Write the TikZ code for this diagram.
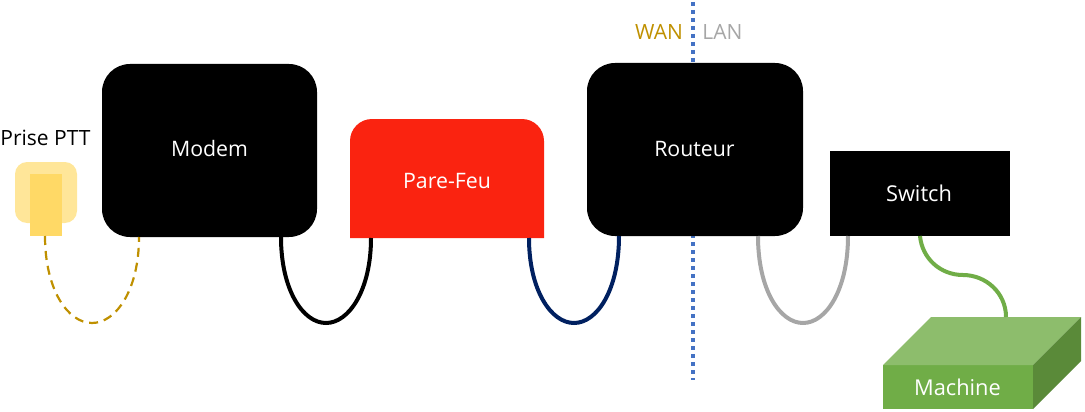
\documentclass[tikz,border=0pt]{standalone}
\usepackage{fontspec}
\setmainfont{Open Sans}
\definecolor{gold}{HTML}{BF9000}
\definecolor{navy}{HTML}{002060}
\definecolor{cablegray}{HTML}{A6A6A6}
\definecolor{lanblue}{HTML}{4472C4}
\definecolor{fwred}{HTML}{FA2310}
\definecolor{grn}{HTML}{70AD47}
\definecolor{grnlight}{HTML}{8DBD6C}
\definecolor{grndark}{HTML}{5A8A39}
\definecolor{plugout}{HTML}{FFE699}
\definecolor{plugin}{HTML}{FFD966}
\tikzset{
  box/.style={fill=black,draw=none,inner sep=0pt},
  boxtext/.style={inner sep=0pt,text=white,font=\fontsize{21.3}{24}\selectfont},
  lab/.style={inner sep=0pt,font=\fontsize{21}{24}\selectfont},
  cable/.style={line width=4pt},
}
\begin{document}
\begin{tikzpicture}[x=1pt,y=-1pt]
\useasboundingbox (0,0) rectangle (1085,412);
% separation line (behind the router)
\coordinate (sepA) at (693,2);
\coordinate (sepB) at (693,380);
\draw[lanblue,line width=4pt,dash pattern=on 4pt off 4pt] (sepA) -- (sepB);
% prise
\node[fill=plugout,rounded corners=12pt,minimum width=62pt,minimum height=61pt,inner sep=0pt] (priseback) at (46,192.5) {};
\node[fill=plugin,minimum width=32pt,minimum height=62pt,inner sep=0pt] (prise) at (46,205) {};
\node[lab,anchor=base] (priselabel) at (45.5,145) {Prise PTT};
% boxes
\node[box,rounded corners=28pt,minimum width=215pt,minimum height=173pt] (modem) at (209.5,150.5) {};
\node[boxtext] (modemlabel) at (209.5,149) {Modem};
\fill[fwred] (350,238) -- (350,141) arc[start angle=180,end angle=270,radius=22] -- (522,119) arc[start angle=270,end angle=360,radius=22] -- (544,238) -- cycle;
\node[boxtext] (fw) at (447,181) {Pare-Feu};
\node[box,rounded corners=28pt,minimum width=216pt,minimum height=173pt] (routeur) at (695,149.5) {};
\node[boxtext] (routeurlabel) at (694.5,149) {Routeur};
\node[box,minimum width=180pt,minimum height=85pt] (switch) at (920,193.5) {};
\node[boxtext,font=\fontsize{21.8}{24}\selectfont] (switchlabel) at (919,193.5) {Switch};
% machine
\fill[grn] (883,365) rectangle (1033,409);
\fill[grnlight] (883,365) -- (931,317) -- (1081,317) -- (1033,365) -- cycle;
\fill[grndark] (1033,365) -- (1081,317) -- (1081,361) -- (1033,409) -- cycle;
\coordinate (machinetop) at (1006,317);
\node[boxtext,font=\fontsize{21.8}{24}\selectfont] (machine) at (957.5,387) {Machine};
% labels
\node[lab,text=gold] (wan) at (659,32) {WAN};
\node[lab,text=cablegray] (lan) at (722.5,32) {LAN};
% cables
\coordinate (a1) at (45,236); \coordinate (a2) at (139,237); \coordinate (a3) at (92,323);
\draw[gold,line width=2.2pt,dash pattern=on 9pt off 6pt] (a1) .. controls (45,290) and (68,323) .. (a3) .. controls (116,323) and (139,290) .. (a2);
\coordinate (b1) at (281,237); \coordinate (b2) at (371,238); \coordinate (b3) at (326,323);
\draw[black,cable] (b1) .. controls (281,290) and (303,323) .. (b3) .. controls (349,323) and (371,290) .. (b2);
\coordinate (c1) at (529,238); \coordinate (c2) at (619,236); \coordinate (c3) at (574,323);
\draw[navy,cable] (c1) .. controls (529,290) and (551,323) .. (c3) .. controls (597,323) and (619,290) .. (c2);
\coordinate (d1) at (758,236); \coordinate (d2) at (848,236); \coordinate (d3) at (803,323);
\draw[cablegray,cable] (d1) .. controls (758,290) and (780,323) .. (d3) .. controls (826,323) and (848,290) .. (d2);
\coordinate (e1) at (920,236); \coordinate (e2) at (963,275);
\draw[grn,cable] (e1) .. controls (922,258) and (940,275) .. (e2) .. controls (986,275) and (1006,293) .. (machinetop);
\end{tikzpicture}
\end{document}
